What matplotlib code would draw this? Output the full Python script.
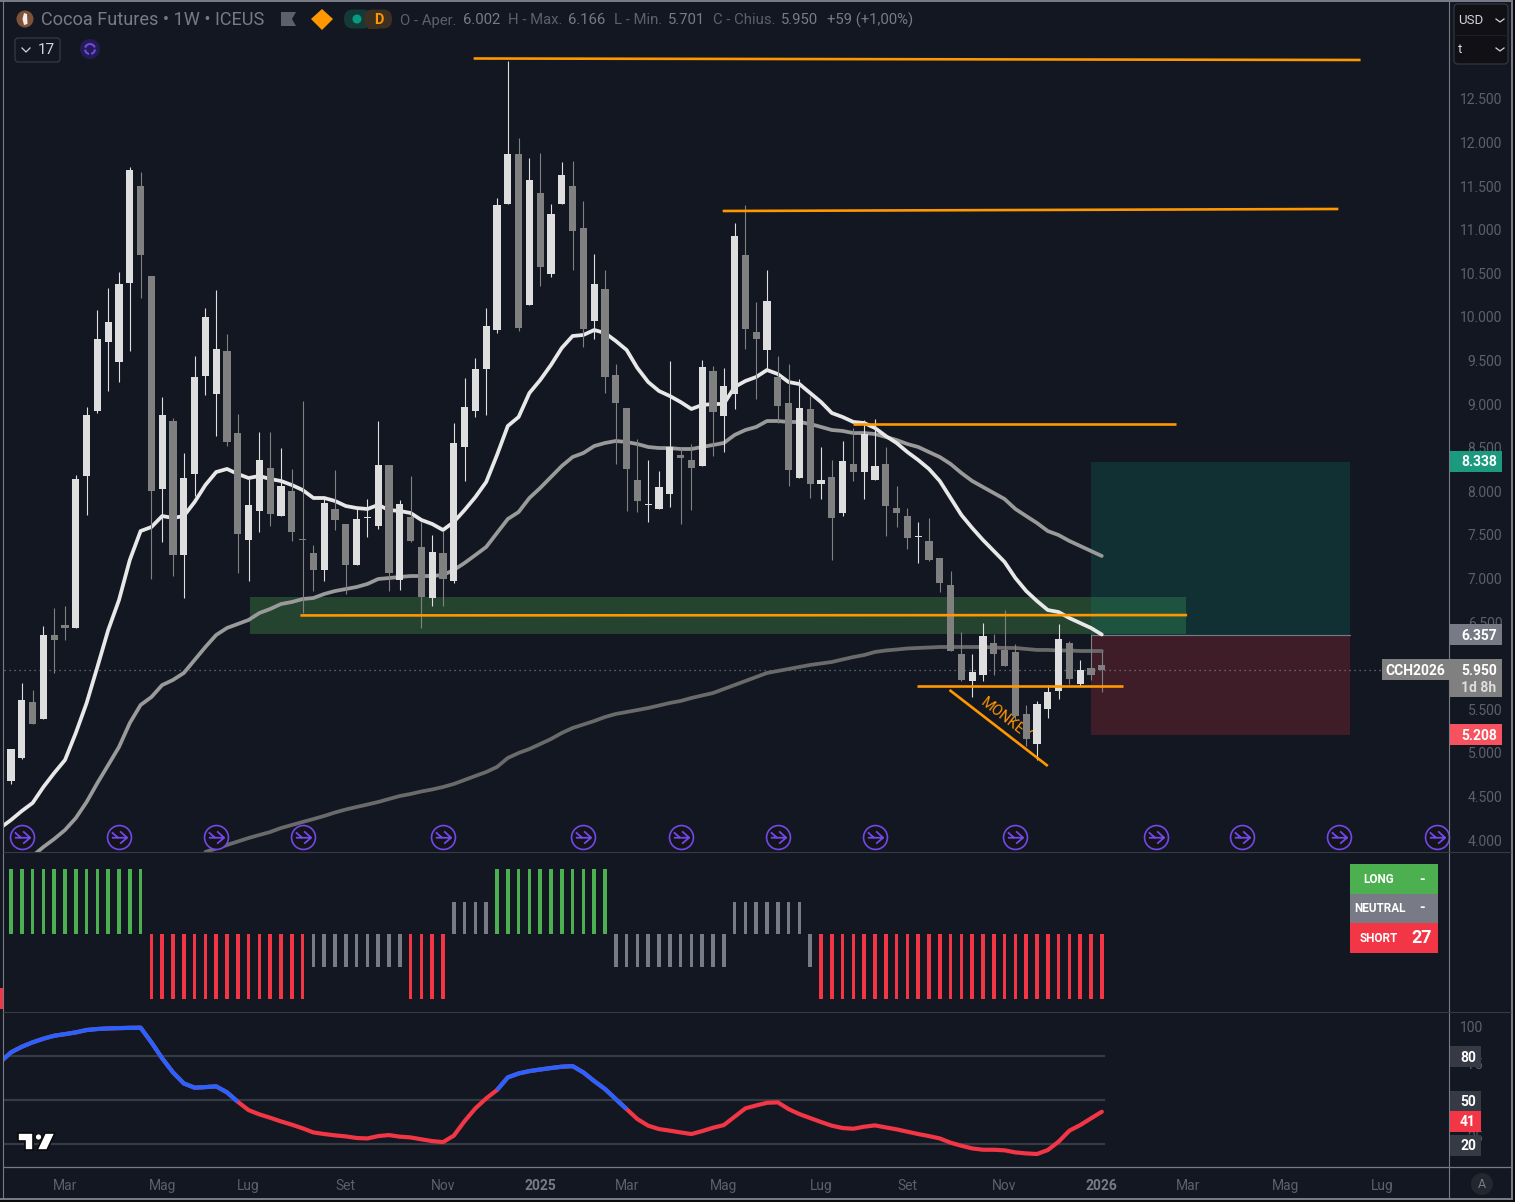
import numpy as np
import matplotlib
matplotlib.use("Agg")
import matplotlib.pyplot as plt
from matplotlib.patches import Rectangle, Circle, Polygon, FancyBboxPatch
from matplotlib.path import Path

# ---------- data ----------
opens = [4677,4941,5583,5388,6352,6466,6432,8175,8921,9712,9483,10389,11502,10469,8026,8806,7269,8198,9322,9116,
         9609,8668,7441,7774,8267,7716,8003,7453,7292,7097,7797,7625,7155,7695,7602,8301,6983,7705,7361,6776,
         7292,6971,8508,8921,9403,9850,11295,11869,10137,11421,10492,11295,11502,11020,9953,10320,9334,8955,8129,7838,
         7797,7969,8416,8359,8290,9380,8863,9116,10710,9827,9621,9311,9013,8152,8944,8084,8164,7751,8313,8221,
         8129,8313,7808,7716,7470,7430,7235,6925,6134,5824,5893,6260,6180,6157,5446,5101,5503,5709,6260,5789,5973,6002]
highs = [5044,5801,5721,6455,6661,6684,8187,8967,10079,10332,10515,11720,11662,10469,9081,8841,8439,9552,10102,10309,
         9804,8886,8141,8680,8680,8496,8256,9036,7384,7911,8244,7625,7797,7911,8806,8301,7900,8175,7648,7498,
         7544,8783,9299,9529,10102,11364,12935,12052,11823,11880,11295,11777,11788,11330,10722,10538,9460,8955,8600,8359,
         8233,9494,8496,8542,9506,9437,9414,11077,11284,10171,10538,9552,9460,9288,9093,8508,8359,8577,8726,8818,
         8829,8508,8061,7808,7648,7694,7235,7085,6386,6134,6489,6363,6638,6249,5549,5595,5778,6478,6283,6065,6363,6166]
lows = [4643,4930,5331,5388,5916,6294,6432,7728,8898,9150,9253,9609,10217,6994,7418,7028,6776,7946,9104,8634,
        8519,7063,6971,7533,7602,7716,7430,6604,6856,6971,7556,6822,7155,7476,7567,6856,6868,7418,6432,6684,
        6684,6948,8118,8852,8875,9815,11295,9838,10137,10355,10458,11295,10538,9655,9747,9127,8313,7774,7762,7648,
        7797,7820,7625,7785,8290,8405,8450,8944,9632,9059,9391,8783,8061,8152,7923,7911,7212,7716,8118,7911,
        8129,7487,7590,7338,7178,7200,6845,6168,5824,5640,5824,5893,5996,5377,5078,4918,5400,5617,5789,5766,5835,5701]
closes = [5044,5606,5331,6352,6294,6432,8141,8875,9747,9942,10378,11685,10710,8003,8875,7269,8152,9311,9999,9632,
          8565,7510,7843,8359,7739,8061,7533,7441,7097,7866,7671,7155,7682,7705,8301,7063,7854,7430,6787,7304,
          6994,8554,8967,9403,9896,11284,11869,9873,11570,10573,11180,11628,10985,9861,10378,9311,9013,8256,7889,7850,
          8049,8508,8382,8267,9426,8909,9208,10928,9861,9747,10182,8978,8244,8955,8084,8129,7694,8347,8221,8657,
          8290,7832,7751,7464,7482,7212,6948,6168,5836,5927,6340,6134,5996,5423,5158,5560,5698,6306,5847,5950,5893,5950]

ma_fast = [4138,4230,4333,4425,4608,4769,4918,5228,5571,5985,6409,6753,7212,7544,7590,7716,7694,7716,7877,8072,8221,
           8256,8198,8152,8175,8141,8118,8072,8015,7923,7923,7889,7831,7808,7797,7843,7785,7774,7751,7671,7625,
           7556,7648,7785,7934,8107,8416,8749,8852,9127,9276,9449,9644,9781,9793,9850,9815,9724,9621,9414,9253,
           9150,9093,9024,8944,8990,9001,9001,9196,9265,9311,9391,9345,9253,9230,9127,9024,8898,8852,8795,8783,
           8726,8634,8554,8450,8359,8256,8118,7923,7728,7579,7441,7315,7189,7005,6856,6741,6638,6615,6546,6489,6432,6357]
ma_mid = [3540,3633,3725,3817,3920,4012,4115,4252,4436,4654,4860,5067,5342,5549,5640,5778,5836,5916,6065,6214,6352,
          6432,6478,6524,6604,6650,6707,6730,6764,6776,6822,6856,6879,6902,6937,6994,7005,7017,7028,7028,7028,
          7040,7097,7178,7269,7361,7522,7682,7762,7923,8038,8164,8290,8393,8439,8519,8554,8577,8565,8542,8508,
          8496,8496,8485,8485,8508,8531,8554,8646,8703,8738,8806,8806,8795,8795,8772,8738,8703,8692,8668,8668,
          8657,8623,8588,8542,8508,8450,8393,8313,8210,8118,8049,7980,7911,7797,7716,7636,7544,7498,7430,7373,7315,7258]
ma_slow_start = 18
ma_slow = [3863,3903,3943,3983,4023,4058,4092,4138,4172,4207,4241,4276,4316,4350,4379,4407,4436,4471,4505,4528,
           4557,4580,4608,4643,4689,4735,4780,4838,4941,4998,5044,5101,5159,5228,5285,5325,5365,5411,5446,5468,
           5491,5514,5543,5572,5595,5629,5658,5686,5732,5778,5824,5870,5916,5939,5962,5985,6008,6025,6042,6071,
           6099,6122,6157,6174,6185,6197,6203,6208,6214,6214,6214,6214,6214,6208,6203,6203,6191,6180,6180,6174,
           6174,6168,6168,6168]

# regime per week: 2 long, 1 neutral+, -1 neutral-, -2 short
regime = [2]*13 + [-2]*15 + [-1]*9 + [-2]*4 + [1]*4 + [2]*11 + [-1]*11 + [1]*7 + [-1]*1 + [-2]*27

osc = [76,82.7,86.5,89.5,92,94,95.1,96.3,97.9,98.6,99,99.2,99.4,99.5,89.5,78.6,69,61.5,58.6,59,59.5,
       55.4,49,43.3,40.4,38.1,35.6,33.4,30.9,28.1,27,26.1,25.4,24.3,24,25.6,26.3,25.2,24.7,23.4,22.2,
       21.5,25.9,35.8,44.5,51.3,57,65.6,68.3,69.9,71,72,72.9,73.3,69,63.1,57.7,50.8,44,37.2,32.7,
       30.4,29.3,28.1,27,29,31.3,33.1,38.8,44.5,46.5,48.3,48.6,44,40.6,37.9,35.2,32.7,31.1,30.6,32,
       32.9,31.5,30.2,28.6,27,25.6,24,21.1,19,17.2,16.3,16.3,15.9,14.5,13.8,13.4,16.1,21.8,29.3,33.1,37.7,42.2]
osc_blue_spans = [(-1, 21), (45, 57)]
osc_levels = [80, 50, 20]

event_weeks = [1,10,19,27,40,53,62,71,80,93,106,114,123,132]
event_price = 4035

month_ticks = [5,14,22,31,40,49,57,66,75,83,92,101,109,118,127]
month_labels = ["Mar","Mag","Lug","Set","Nov","2025","Mar","Mag","Lug","Set","Nov","2026","Mar","Mag","Lug"]
price_ticks = list(range(4000, 13000, 500))
price_labels = [f"{p//1000}.{p%1000:03d}" for p in price_ticks]

# drawings: (week0, price0, week1, price1)
orange_lines = [(42.84,12964,124.96,12947),(65.9,11215,122.9,11238),(78.0,8772,107.9,8772),
                (26.8,6576,108.9,6580),(83.85,5767,103,5767),(86.9,5721,96,4849)]
zone = (22.1, 108.8, 6363, 6787)
position = (100, 124, 5208, 6357, 8338)
last_close = 5950

# ---------- style ----------
BG = "#131722"; UP = "#dedede"; DOWN = "#808080"; ORANGE = "#ff9800"
GREEN = "#4caf50"; RED = "#f23645"; GREY = "#787b86"; TICK = "#5d606b"; PANEL = "#363a45"; BLUE = "#2962ff"
PURPLE = "#7248e8"
plt.rcParams["font.family"] = ["Roboto", "DejaVu Sans"]

W, H = 1515, 1202
fig = plt.figure(figsize=(W/100, H/100), dpi=100, facecolor=BG)
def axpx(x0, y0, x1, y1, **kw):
    return fig.add_axes([x0/W, 1-y1/H, (x1-x0)/W, (y1-y0)/H], facecolor=BG, **kw)

X0, X1 = 3.5, 1449.5
def w(x): return (x-11.0)/10.8
xlim = (w(X0), w(X1))

# ---------- main panel ----------
ax = axpx(X0, 3, X1, 852)
ax.set_xlim(xlim)
ax.set_ylim(13635-11.47*852, 13635-11.47*3)
idx = np.arange(len(opens))
o, h, l, c = map(np.array, (opens, highs, lows, closes))
colors = np.where(c >= o, UP, DOWN)

ax.add_patch(Rectangle((zone[0], zone[2]), zone[1]-zone[0], zone[3]-zone[2], fc=GREEN, alpha=0.3, lw=0, zorder=1))
ax.add_patch(Rectangle((position[0], position[3]), position[1]-position[0], position[4]-position[3],
                       fc="#089981", alpha=0.2, lw=0, zorder=1.1))
ax.add_patch(Rectangle((position[0], position[2]), position[1]-position[0], position[3]-position[2],
                       fc=RED, alpha=0.2, lw=0, zorder=1.1))
ax.plot([position[0], position[1]], [position[3]]*2, color=GREY, lw=0.8, zorder=1.2)
ax.plot(xlim, [last_close]*2, color=GREY, lw=0.9, ls=(0, (1, 3)), zorder=1.3)

ax.plot(np.arange(-1, len(ma_slow)+ma_slow_start)[ma_slow_start+1:], ma_slow, color="#6a6a6a", lw=2.7, zorder=2,
        solid_joinstyle="round", solid_capstyle="round")
ax.plot(np.arange(-1, len(ma_mid)-1), ma_mid, color="#9a9a9a", lw=2.7, zorder=2.1, solid_capstyle="round")
ax.plot(np.arange(-1, len(ma_fast)-1), ma_fast, color="#e8e8e8", lw=2.7, zorder=2.2, solid_capstyle="round")

ax.text(w(1006), 13635-11.47*719, "MONKEY", color=ORANGE, fontsize=10.5, rotation=-38,
        rotation_mode="anchor", ha="center", va="center", zorder=2.5)

ax.vlines(idx, l, h, colors=colors, lw=0.8, zorder=3)
ax.bar(idx, np.abs(c-o), bottom=np.minimum(o, c), width=0.65, color=colors, lw=0, zorder=3.1)

for x0, y0, x1, y1 in orange_lines:
    ax.plot([x0, x1], [y0, y1], color=ORANGE, lw=1.9, zorder=4, solid_capstyle="butt")

arrow = Path([(-0.62,-0.02),(0.62,-0.02),(0.05,0.5),(0.62,-0.02),(0.05,-0.5),(-0.62,0.42),(-0.12,-0.02)],
             [Path.MOVETO,Path.LINETO,Path.MOVETO,Path.LINETO,Path.LINETO,Path.MOVETO,Path.LINETO])
ax.plot(event_weeks, [event_price]*len(event_weeks), ls="", marker="o", ms=17.2, mfc="#131319", mec=PURPLE, mew=1.2, zorder=5, clip_on=True)
ax.plot(event_weeks, [event_price]*len(event_weeks), ls="", marker=arrow, ms=11, mfc="none", mec=PURPLE, mew=1.3, zorder=5.1)

ax.set_xticks([])
ax.yaxis.tick_right()
ax.set_yticks(price_ticks, price_labels)
ax.tick_params(axis="y", length=0, pad=38, labelsize=10, labelcolor=TICK)
for t in ax.get_yticklabels():
    t.set_ha("right")
for s in ax.spines.values():
    s.set_visible(False)

# ---------- regime panel ----------
ax2 = axpx(X0, 853, X1, 1012)
ax2.set_xlim(xlim)
ax2.set_ylim(-(1012-934)/32.5, (934-853)/32.5)
reg = np.array(regime)
reg_col = [{2:GREEN, 1:GREY, -1:GREY, -2:RED}[r] for r in regime]
ax2.bar(np.arange(len(reg)), reg, width=0.33, color=reg_col, lw=0)
ax2.axis("off")

# ---------- oscillator panel ----------
ax3 = axpx(X0, 1013, X1, 1167)
ax3.set_xlim(xlim)
ax3.set_ylim(50-(1167-1100.3)/1.467, 50+(1100.3-1013)/1.467)
ox = np.arange(-1, len(osc)-1)
for lv in osc_levels:
    ax3.plot([-1, 101.2], [lv, lv], color=PANEL, lw=1.6, zorder=1)
ax3.plot(ox, osc, color=RED, lw=3.0, zorder=2, solid_capstyle="round")
for a, b in osc_blue_spans:
    m = (ox >= a) & (ox <= b)
    ax3.plot(ox[m], np.array(osc)[m], color=BLUE, lw=3.0, zorder=2.1, solid_capstyle="butt")
ax3.yaxis.tick_right()
ax3.set_yticks([100, 75, 50, 25], ["100", "75", "50", "25"])
ax3.tick_params(axis="y", length=0, pad=24, labelsize=10, labelcolor=TICK)
for t in ax3.get_yticklabels():
    t.set_ha("right")
ax3.set_xticks(month_ticks, month_labels)
ax3.tick_params(axis="x", length=0, pad=8.3, labelsize=10, labelcolor=TICK)
for t, s in zip(ax3.get_xticklabels(), month_labels):
    if s.isdigit():
        t.set_fontweight("bold"); t.set_color(GREY)
for s in ax3.spines.values():
    s.set_visible(False)

# ---------- overlay in pixels ----------
ov = fig.add_axes([0, 0, 1, 1], facecolor="none", zorder=10)
ov.set_xlim(0, W); ov.set_ylim(H, 0); ov.axis("off")
def hline(y, x0, x1, col=PANEL, lw=0.8): ov.plot([x0, x1], [y, y], color=col, lw=lw, solid_capstyle="butt")
def vline(x, y0, y1, col=GREY, lw=0.8): ov.plot([x, x], [y0, y1], color=col, lw=lw, solid_capstyle="butt")
def box(x0, y0, x1, y1, fc, ec="none", lw=0, z=2):
    ov.add_patch(Rectangle((x0, y0), x1-x0, y1-y0, fc=fc, ec=ec, lw=lw, zorder=z))
def txt(x, y, s, col="white", size=10, ha="center", weight="normal", z=5, **kw):
    ov.text(x, y+1, s, color=col, fontsize=size, ha=ha, va="center", fontweight=weight, zorder=z, **kw)

# frame
box(0, 0, W, 1.8, GREY, z=1); box(0, 1198, 1512, 1200, GREY, z=1); box(1511, 0, 1513, 1200, GREY, z=1)
box(0, 1200, W, H, "#0a0a0d", z=1); box(1513, 0, W, H, "#0a0a0d", z=1)
vline(3.0, 0, 1198); vline(1449.3, 0, 1198)
hline(852, 3, 1511); hline(1012, 3, 1511); hline(1167, 3, 1511, GREY, 0.9)
box(0, 988, 3, 1009, RED)

# price labels
box(1450, 451, 1502, 472, "#1b9a80"); txt(1479, 461.5, "8.338", weight="bold")
box(1450, 624, 1502, 645, GREY); txt(1479, 634.5, "6.357", weight="bold")
box(1382, 659, 1450, 680, "#808080"); txt(1415.5, 670, "CCH2026", weight="bold")
box(1450, 659, 1502, 696.5, "#808080"); txt(1479, 670, "5.950", weight="bold"); txt(1479, 687, "1d 8h", col="#dddddd", weight="bold")
box(1450, 724, 1502, 745, "#f7525f"); txt(1479, 734.5, "5.208", weight="bold")
for y, s, col in [(1056.5, "80", PANEL), (1101, "50", PANEL), (1145.5, "20", PANEL), (1121.5, "41", RED)]:
    box(1450, y-10.5, 1481, y+10.5, col, z=3 if s == "41" else 2)
    txt(1468, y, s, weight="bold")

# signal table
box(1350, 864, 1438, 894, GREEN); box(1350, 894, 1438, 923, GREY); box(1350, 923, 1438, 953, RED)
txt(1379, 878.5, "LONG", size=8.5, weight="bold"); txt(1422, 879, "-", size=10.5, weight="bold")
txt(1380, 907.5, "NEUTRAL", size=8.5, weight="bold"); txt(1422, 907.5, "-", size=10.5, weight="bold")
txt(1379, 937, "SHORT", size=8.5, weight="bold"); txt(1422, 937, "27", size=13, weight="bold")

# header
ov.add_patch(Circle((25, 19), 8.5, fc="#7d5238", lw=0))
ov.add_patch(Polygon([(24,13),(27,14),(27.5,24),(24,25),(22.5,19)], fc="#f2efe9", lw=0))
txt(41, 19, "Cocoa Futures • 1W • ICEUS", col=GREY, size=13.1, ha="left")
ov.add_patch(Polygon([(281,12),(296,12),(292,19),(296,26),(281,26)], fc="#5d606b", lw=0))
ov.add_patch(Polygon([(322,9),(333,19),(322,30),(311,19)], fc=ORANGE, lw=0))
ov.add_patch(FancyBboxPatch((344, 9.5), 28, 19, boxstyle="round,pad=0,rounding_size=9", fc="#143a38", lw=0))
ov.add_patch(FancyBboxPatch((364, 9.5), 28, 19, boxstyle="round,pad=0,rounding_size=9", fc="#3d2f22", lw=0))
box(368, 9.5, 378, 28.5, "#3d2f22", z=2)
ov.add_patch(Circle((357, 19), 4.5, fc="#089981", lw=0, zorder=3))
txt(379, 19, "D", col=ORANGE, size=10.5, weight="bold")
for x, s, col in [(400, "O - Aper.", TICK), (463, "6.002", GREY), (508, "H - Max.", TICK), (568, "6.166", GREY),
                  (614, "L - Min.", TICK), (668, "5.701", GREY), (713, "C - Chius.", TICK), (781, "5.950", GREY),
                  (827, "+59 (+1,00%)", GREY)]:
    txt(x, 19.5, s, col=col, size=10.7, ha="left")
ov.add_patch(FancyBboxPatch((15, 38), 45, 24, boxstyle="round,pad=0,rounding_size=3", fc="none", ec=PANEL, lw=0.9))
ov.plot([22, 26, 30], [48, 52, 48], color="#d1d4dc", lw=0.9)
txt(46, 49.5, "17", col="#d1d4dc", size=11)
ov.add_patch(Circle((90, 49), 10, fc="#241c52", lw=0))
ov.add_patch(Circle((90, 49), 5, fc="none", ec=PURPLE, lw=1.5, ls=(0, (3, 1))))

# currency box
ov.add_patch(FancyBboxPatch((1454, 4), 54, 60, boxstyle="round,pad=0,rounding_size=4", fc="#101015", ec=PANEL, lw=0.8))
hline(34.5, 1454, 1508, "#1c1f28")
txt(1458, 19.5, "USD", col="#d1d4dc", size=9.5, ha="left"); txt(1458, 48.5, "t", col="#d1d4dc", size=9.5, ha="left")
ov.plot([1496, 1500, 1504], [19, 22, 19], color="#d1d4dc", lw=0.9)
ov.plot([1496, 1500, 1504], [48, 51, 48], color="#d1d4dc", lw=0.9)

# auto button
ov.add_patch(Circle((1482, 1184), 11, fc="#24272f", lw=0))
txt(1482, 1184, "A", col=GREY, size=9)

# TV logo
for pts in ([(18,1133),(33,1133),(33,1150),(25,1150),(25,1141),(18,1141)], [(45,1133),(55,1133),(47,1150),(37,1150)]):
    ov.add_patch(Polygon(pts, fc="white", ec="#0a0a0a", lw=1.2, zorder=6))
ov.add_patch(Circle((38.5, 1137), 3.2, fc="white", ec="#0a0a0a", lw=0.8, zorder=6))

fig.savefig("out.png", dpi=100, facecolor=BG)
